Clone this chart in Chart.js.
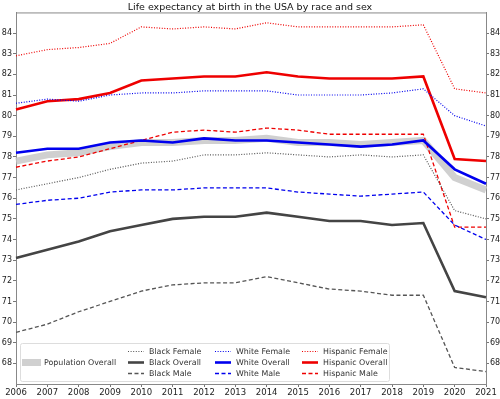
<!DOCTYPE html>
<html>
<head>
<meta charset="utf-8">
<script src="https://cdn.jsdelivr.net/npm/chart.js@4.4.1/dist/chart.umd.min.js"></script>
<style>
  body { margin: 0; background: #fff; }
  canvas { display: block; }
</style>
</head>
<body>
<canvas id="chart" width="500" height="399"></canvas>
<script>
const years = ['2006', '2007', '2008', '2009', '2010', '2011', '2012', '2013', '2014', '2015', '2016', '2017', '2018', '2019', '2020', '2021'];
const yTicks = [68, 69, 70, 71, 72, 73, 74, 75, 76, 77, 78, 79, 80, 81, 82, 83, 84];

const populationOverall = [77.8, 78.1, 78.2, 78.5, 78.7, 78.7, 78.8, 78.8, 78.9, 78.7, 78.7, 78.6, 78.7, 78.8, 77.0, 76.4];

const blackFemale = [76.4, 76.7, 77.0, 77.4, 77.7, 77.8, 78.1, 78.1, 78.2, 78.1, 78.0, 78.1, 78.0, 78.1, 75.4, 75.0];
const blackOverall = [73.1, 73.5, 73.9, 74.4, 74.7, 75.0, 75.1, 75.1, 75.3, 75.1, 74.9, 74.9, 74.7, 74.8, 71.5, 71.2];
const blackMale = [69.5, 69.9, 70.5, 71.0, 71.5, 71.8, 71.9, 71.9, 72.2, 71.9, 71.6, 71.5, 71.3, 71.3, 67.8, 67.6];

const whiteFemale = [80.6, 80.8, 80.7, 81.0, 81.1, 81.1, 81.2, 81.2, 81.2, 81.0, 81.0, 81.0, 81.1, 81.3, 80.0, 79.5];
const whiteOverall = [78.2, 78.4, 78.4, 78.7, 78.8, 78.7, 78.9, 78.8, 78.8, 78.7, 78.6, 78.5, 78.6, 78.8, 77.4, 76.7];
const whiteMale = [75.7, 75.9, 76.0, 76.3, 76.4, 76.4, 76.5, 76.5, 76.5, 76.3, 76.2, 76.1, 76.2, 76.3, 74.7, 74.0];

const hispanicFemale = [82.9, 83.2, 83.3, 83.5, 84.3, 84.2, 84.3, 84.2, 84.5, 84.3, 84.3, 84.3, 84.3, 84.4, 81.3, 81.1];
const hispanicOverall = [80.3, 80.7, 80.8, 81.1, 81.7, 81.8, 81.9, 81.9, 82.1, 81.9, 81.8, 81.8, 81.8, 81.9, 77.9, 77.8];
const hispanicMale = [77.5, 77.8, 78.0, 78.4, 78.8, 79.2, 79.3, 79.2, 79.4, 79.3, 79.1, 79.1, 79.1, 79.1, 74.6, 74.6];

const FONT = 'DejaVu Sans';
const DOT = [1, 1.6];
const DASH = [4, 2.5];

function series(label, data, color, kind) {
    const ds = {
        label: label,
        data: data,
        borderColor: color,
        backgroundColor: color,
        pointRadius: 0,
        fill: false,
        tension: 0,
        order: 1,
    };
    if (kind === 'dotted') { ds.borderWidth = 1.2; ds.borderDash = DOT; }
    if (kind === 'dashed') { ds.borderWidth = 1.3; ds.borderDash = DASH; }
    if (kind === 'solid') { ds.borderWidth = 2.6; }
    return ds;
}

const BLACK = '#444444';
const BLUE = '#0000ee';
const RED = '#ee0000';

const datasets = [
    series('Black Female', blackFemale, '#555555', 'dotted'),
    series('Black Overall', blackOverall, BLACK, 'solid'),
    series('Black Male', blackMale, '#555555', 'dashed'),
    series('White Female', whiteFemale, BLUE, 'dotted'),
    series('White Overall', whiteOverall, BLUE, 'solid'),
    series('White Male', whiteMale, BLUE, 'dashed'),
    series('Hispanic Female', hispanicFemale, RED, 'dotted'),
    series('Hispanic Overall', hispanicOverall, RED, 'solid'),
    series('Hispanic Male', hispanicMale, RED, 'dashed'),
    {
        label: 'Population Overall',
        data: populationOverall,
        borderColor: 'rgba(200, 200, 200, 0.85)',
        backgroundColor: 'rgba(200, 200, 200, 0.85)',
        borderWidth: 7,
        pointRadius: 0,
        tension: 0,
        order: 10, // draw underneath
    },
];

// top frame line + custom 4-column legend
const framePlugin = {
    id: 'frame',
    afterDraw(chart) {
        const ctx = chart.ctx;
        const a = chart.chartArea;
        ctx.save();
        ctx.strokeStyle = '#888';
        ctx.lineWidth = 1;
        ctx.beginPath();
        ctx.moveTo(a.left, a.top + 0.5);
        ctx.lineTo(a.right, a.top + 0.5);
        ctx.stroke();

        // legend box
        ctx.fillStyle = 'rgba(255,255,255,0.85)';
        ctx.strokeStyle = '#dddddd';
        ctx.beginPath();
        ctx.roundRect(20.5, 343.5, 369, 38, 2);
        ctx.fill();
        ctx.stroke();

        ctx.font = '7.9px "' + FONT + '"';
        ctx.textBaseline = 'middle';
        ctx.textAlign = 'left';

        const pop = chart.data.datasets[9];
        ctx.fillStyle = pop.borderColor;
        ctx.fillRect(22, 359, 19, 7);
        ctx.fillStyle = '#333';
        ctx.fillText(pop.label, 44, 362.5);

        const cols = [128, 215, 302];
        const rows = [351.5, 362.5, 373.5];
        for (let c = 0; c < 3; c++) {
            for (let r = 0; r < 3; r++) {
                const ds = chart.data.datasets[c * 3 + r];
                const x = cols[c];
                const y = rows[r];
                ctx.strokeStyle = ds.borderColor;
                ctx.lineWidth = ds.borderWidth;
                ctx.setLineDash(ds.borderDash || []);
                ctx.beginPath();
                ctx.moveTo(x, y);
                ctx.lineTo(x + 16, y);
                ctx.stroke();
                ctx.setLineDash([]);
                ctx.fillStyle = '#333';
                ctx.fillText(ds.label, x + 21, y);
            }
        }
        ctx.restore();
    },
};

function yAxis(position, width) {
    return {
        position: position,
        min: 67,
        max: 85,
        afterBuildTicks: (scale) => {
            scale.ticks = yTicks.map((v) => ({ value: v }));
        },
        afterFit: (scale) => { scale.width = width; },
        ticks: {
            color: '#222',
            padding: 1,
            font: { family: FONT, size: 8 },
        },
        grid: { display: true, drawOnChartArea: false, tickLength: 3, color: '#777' },
        border: { display: true, color: '#888' },
    };
}

new Chart(document.getElementById('chart').getContext('2d'), {
    type: 'line',
    data: { labels: years, datasets: datasets },
    options: {
        responsive: false,
        animation: false,
        layout: { padding: 0 },
        scales: {
            x: {
                offset: false,
                afterFit: (scale) => { scale.height = 15; },
                ticks: {
                    color: '#222',
                    padding: 1,
                    autoSkip: false,
                    maxRotation: 0,
                    font: { family: FONT, size: 8.5 },
                },
                grid: { display: true, drawOnChartArea: false, tickLength: 3, color: '#777', offset: false },
                border: { display: true, color: '#888' },
            },
            y: yAxis('left', 16),
            y2: yAxis('right', 14),
        },
        plugins: {
            legend: { display: false },
            tooltip: { enabled: false },
            title: {
                display: true,
                text: 'Life expectancy at birth in the USA by race and sex',
                color: '#111',
                font: { family: FONT, size: 9.5, weight: 'normal', lineHeight: 1.1 },
                padding: { top: 2, bottom: 0 },
            },
        },
    },
    plugins: [framePlugin],
});
</script>
</body>
</html>
